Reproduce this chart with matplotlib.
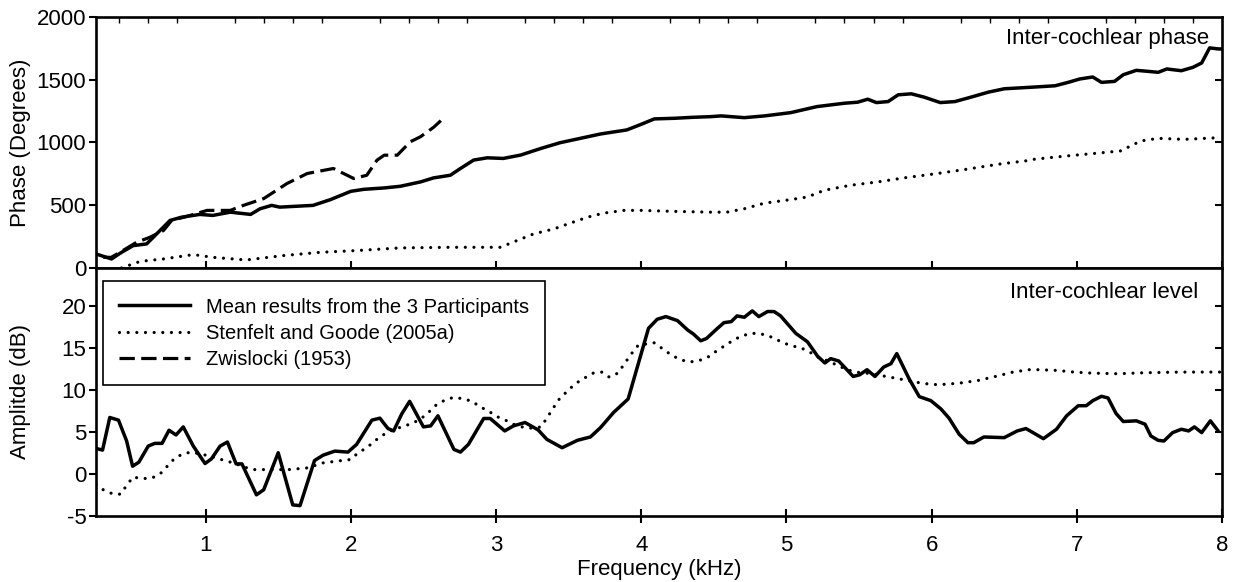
import matplotlib
matplotlib.use("Agg")
import matplotlib.pyplot as plt
from matplotlib.ticker import FixedLocator

plt.rcParams['font.family'] = ['Liberation Sans', 'DejaVu Sans']
plt.rcParams['axes.unicode_minus'] = False

# ---------------- data ----------------
# Top panel: inter-cochlear phase (degrees)
phase_mean_f = [0.245,0.352,0.41,0.50,0.594,0.674,0.755,0.835,0.96,1.05,
                1.17,1.31,1.375,1.455,1.51,1.74,1.86,2.0,2.09,2.23,
                2.34,2.48,2.57,2.685,2.755,2.846,2.94,3.05,3.17,3.31,
                3.44,3.58,3.72,3.90,4.0,4.09,4.23,4.36,4.48,4.55,
                4.71,4.85,5.03,5.21,5.40,5.49,5.56,5.62,5.70,5.77,
                5.86,5.95,6.06,6.16,6.27,6.39,6.50,6.59,6.71,6.85,
                6.94,7.02,7.11,7.17,7.26,7.32,7.41,7.49,7.56,7.62,
                7.72,7.80,7.86,7.915,7.97,8.0]
phase_mean = [112,72,117,178,192,285,379,405,427,419,
              445,427,472,499,485,499,545,611,627,638,
              651,686,718,739,793,860,878,873,900,953,
              998,1033,1068,1100,1145,1188,1193,1201,1206,1212,
              1198,1212,1238,1286,1313,1321,1345,1318,1326,1380,
              1388,1361,1318,1326,1361,1401,1428,1434,1442,1452,
              1479,1506,1522,1479,1487,1540,1575,1567,1559,1586,
              1572,1599,1634,1754,1746,1745]

phase_stenfelt_f = [0.42,0.55,0.71,0.915,1.05,1.28,1.535,1.79,2.04,2.34,
                    2.685,2.96,3.03,3.145,3.26,3.40,3.51,3.63,3.74,3.88,
                    4.0,4.23,4.48,4.59,4.71,4.85,5.03,5.145,5.26,5.44,
                    5.63,5.81,6.04,6.23,6.46,6.65,6.71,6.94,7.17,7.31,
                    7.38,7.45,7.56,7.74,7.97]
phase_stenfelt = [0,53,72,107,85,64,99,125,139,160,
                  165,165,165,219,272,312,357,405,437,459,
                  459,451,445,445,472,517,545,566,619,659,
                  686,718,753,785,827,854,867,894,918,934,
                  980,1014,1033,1025,1038]

phase_zwislocki_f = [0.295,0.35,0.43,0.525,0.617,0.71,0.766,0.87,1.01,1.17,
                     1.26,1.40,1.56,1.70,1.88,2.02,2.11,2.18,2.23,2.32,
                     2.41,2.48,2.57,2.62]
phase_zwislocki = [85,85,139,205,245,299,379,411,459,459,
                   499,553,673,753,793,713,739,859,899,899,
                   1006,1046,1121,1174]

# Bottom panel: inter-cochlear level (dB)
level_mean_f = [0.245,0.29,0.34,0.40,0.456,0.497,0.54,0.605,0.65,0.70,
                0.748,0.796,0.846,0.915,0.996,1.04,1.10,1.15,1.21,1.25,
                1.35,1.40,1.50,1.60,1.65,1.75,1.81,1.89,1.98,2.04,
                2.145,2.20,2.256,2.295,2.35,2.405,2.50,2.55,2.60,2.71,
                2.755,2.81,2.915,2.96,3.06,3.12,3.20,3.29,3.35,3.455,
                3.56,3.65,3.72,3.81,3.91,3.97,4.05,4.11,4.17,4.25,
                4.32,4.36,4.41,4.45,4.525,4.57,4.62,4.66,4.71,4.765,
                4.81,4.87,4.915,4.96,5.065,5.145,5.215,5.265,5.305,5.36,
                5.46,5.505,5.555,5.61,5.67,5.72,5.76,5.845,5.915,5.995,
                6.065,6.12,6.19,6.25,6.29,6.36,6.50,6.59,6.65,6.77,
                6.86,6.93,7.01,7.065,7.11,7.17,7.215,7.27,7.32,7.41,
                7.47,7.51,7.56,7.60,7.66,7.72,7.77,7.81,7.86,7.92,
                7.97]
level_mean = [3.04,2.84,6.72,6.40,3.92,0.92,1.40,3.32,3.64,3.64,
              5.2,4.64,5.6,3.32,1.24,1.8,3.32,3.8,1.2,1.2,
              -2.48,-1.88,2.52,-3.68,-3.77,1.6,2.24,2.72,2.6,3.52,
              6.4,6.64,5.4,5.12,7.12,8.64,5.6,5.72,6.92,2.92,
              2.6,3.52,6.6,6.6,5.12,5.72,6.12,5.24,4.12,3.12,
              4.0,4.4,5.52,7.32,8.92,12.52,17.32,18.4,18.72,18.24,
              17.12,16.64,15.84,16.12,17.32,18.0,18.12,18.8,18.64,19.4,
              18.72,19.32,19.32,18.8,16.72,15.72,14.0,13.2,13.72,13.44,
              11.6,11.8,12.4,11.6,12.72,13.12,14.32,11.32,9.2,8.72,
              7.72,6.64,4.72,3.72,3.72,4.4,4.32,5.12,5.4,4.2,
              5.32,6.92,8.12,8.12,8.72,9.24,9.04,7.2,6.24,6.32,
              5.92,4.52,4.0,3.92,4.92,5.32,5.12,5.6,4.92,6.32,
              5.2]

level_stenfelt_f = [0.245,0.295,0.364,0.415,0.456,0.50,0.56,0.63,0.686,0.736,
                    0.79,0.846,0.90,0.96,1.03,1.09,1.15,1.21,1.27,1.33,
                    1.44,1.57,1.70,1.81,1.94,2.0,2.05,2.11,2.17,2.23,
                    2.29,2.35,2.42,2.48,2.535,2.59,2.65,2.71,2.78,2.835,
                    2.89,2.955,3.01,3.075,3.13,3.195,3.255,3.31,3.35,3.39,
                    3.43,3.49,3.545,3.60,3.67,3.73,3.78,3.84,3.885,3.93,
                    3.98,4.09,4.145,4.21,4.27,4.33,4.39,4.455,4.51,4.57,
                    4.635,4.69,4.755,4.81,4.876,4.93,4.99,5.05,5.11,5.17,
                    5.235,5.29,5.35,5.42,5.475,5.59,5.71,5.775,5.89,6.0,
                    6.07,6.19,6.32,6.44,6.56,6.67,6.74,6.86,6.98,7.10,
                    7.28,7.47,7.71,8.0]
level_stenfelt = [-1.28,-1.88,-2.4,-2.4,-1.36,-0.36,-0.56,-0.48,0,0.92,
                  1.92,2.4,2.6,2.4,2.12,1.8,1.52,1.2,0.8,0.52,
                  0.52,0.52,0.72,1.32,1.6,1.72,2.52,3.12,4.0,4.72,
                  5.24,5.6,6.0,6.52,7.32,8.24,8.8,9.12,8.92,8.64,
                  8.0,7.4,6.8,6.32,5.84,5.52,5.44,5.6,6.64,7.72,
                  8.8,9.84,10.72,11.32,12.0,12.12,11.52,12.0,13.12,14.24,
                  15.32,15.6,14.92,14.12,13.6,13.32,13.44,13.84,14.52,15.2,
                  15.92,16.4,16.72,16.72,16.44,16.0,15.52,15.2,14.92,14.4,
                  13.72,13.44,12.92,12.4,12.12,11.92,11.52,11.32,10.92,10.64,
                  10.64,10.8,11.12,11.6,12.12,12.4,12.4,12.32,12.12,12.0,
                  11.92,12.04,12.12,12.12]

legend_labels = ["Mean results from the 3 Participants",
                 "Stenfelt and Goode (2005a)",
                 "Zwislocki (1953)"]
x_ticks = [1, 2, 3, 4, 5, 6, 7, 8]
phase_ticks = [0, 500, 1000, 1500, 2000]
level_ticks = [-5, 0, 5, 10, 15, 20]

# ---------------- figure ----------------
W, H = 1233, 582
fig = plt.figure(figsize=(W / 100, H / 100), dpi=100)
L, R = 96 / W, 1222 / W
top_y0, top_y1 = 1 - 268 / H, 1 - 17 / H
bot_y0, bot_y1 = 1 - 516 / H, 1 - 268 / H
ax1 = fig.add_axes([L, top_y0, R - L, top_y1 - top_y0])
ax2 = fig.add_axes([L, bot_y0, R - L, bot_y1 - bot_y0])

solid_kw = dict(color='black', lw=2.5, solid_joinstyle='round')
dot_kw = dict(color='black', lw=2.3, linestyle=(0, (0.01, 2.7)),
              dash_capstyle='round')
dash_kw = dict(color='black', lw=2.3, linestyle=(0, (4.8, 2.0)))

h1, = ax1.plot(phase_mean_f, phase_mean, **solid_kw)
h2, = ax1.plot(phase_stenfelt_f, phase_stenfelt, **dot_kw)
h3, = ax1.plot(phase_zwislocki_f, phase_zwislocki, **dash_kw)

ax2.plot(level_mean_f, level_mean, **solid_kw)
ax2.plot(level_stenfelt_f, level_stenfelt, **dot_kw)

ax1.set_ylim(0, 2000)
ax2.set_ylim(-5, 24.5)
fs = 16
for ax, yt in ((ax1, phase_ticks), (ax2, level_ticks)):
    ax.set_xlim(0.245, 8.0)
    ax.xaxis.set_major_locator(FixedLocator(x_ticks))
    ax.yaxis.set_major_locator(FixedLocator(yt))
    ax.yaxis.remove_overlapping_locs = False
    for s in ax.spines.values():
        s.set_linewidth(1.9)
    ax.tick_params(axis='x', which='major', direction='inout', length=10,
                   width=1.5, top=False, bottom=True, labelsize=fs, pad=9)
    ax.tick_params(axis='y', which='major', direction='out', length=5,
                   width=1.5, left=True, right=False, labelsize=fs, pad=2)
    ax.tick_params(axis='y', which='minor', direction='in', length=5,
                   width=1.5, left=False, right=True)

# right-side inward ticks
ax1.yaxis.set_minor_locator(FixedLocator([500, 1000, 1500]))
ax2.yaxis.set_minor_locator(FixedLocator([0, 5, 10, 15, 20]))

# top minor ticks on the phase panel
ax1.xaxis.set_minor_locator(FixedLocator([0.4 + 0.2 * i for i in range(38)]))
ax1.tick_params(axis='x', which='minor', direction='in', length=4, width=1.0,
                top=True, bottom=False)
ax1.tick_params(axis='x', labelbottom=False)
ax2.tick_params(axis='x', which='minor', bottom=False, top=False)

ax1.set_ylabel("Phase (Degrees)", fontsize=fs)
ax2.set_ylabel("Amplitde (dB)", fontsize=fs)
ax1.yaxis.set_label_coords(-0.0575, 0.5)
ax2.yaxis.set_label_coords(-0.0575, 0.5)
ax2.set_xlabel("Frequency (kHz)", fontsize=fs, labelpad=2)

ax1.text(0.989, 0.916, "Inter-cochlear phase", transform=ax1.transAxes,
         ha='right', va='center', fontsize=fs)
ax2.text(0.979, 0.9, "Inter-cochlear level", transform=ax2.transAxes,
         ha='right', va='center', fontsize=fs)

leg = ax2.legend([h1, h2, h3], legend_labels, loc='upper left',
                 bbox_to_anchor=(0.0065, 0.946), borderaxespad=0,
                 fontsize=14.5, frameon=True, fancybox=False, framealpha=1,
                 edgecolor='black', borderpad=0.8, labelspacing=0.36,
                 handlelength=3.5, handletextpad=0.8)
leg.get_frame().set_linewidth(1.2)

fig.savefig("out.png", dpi=100)
